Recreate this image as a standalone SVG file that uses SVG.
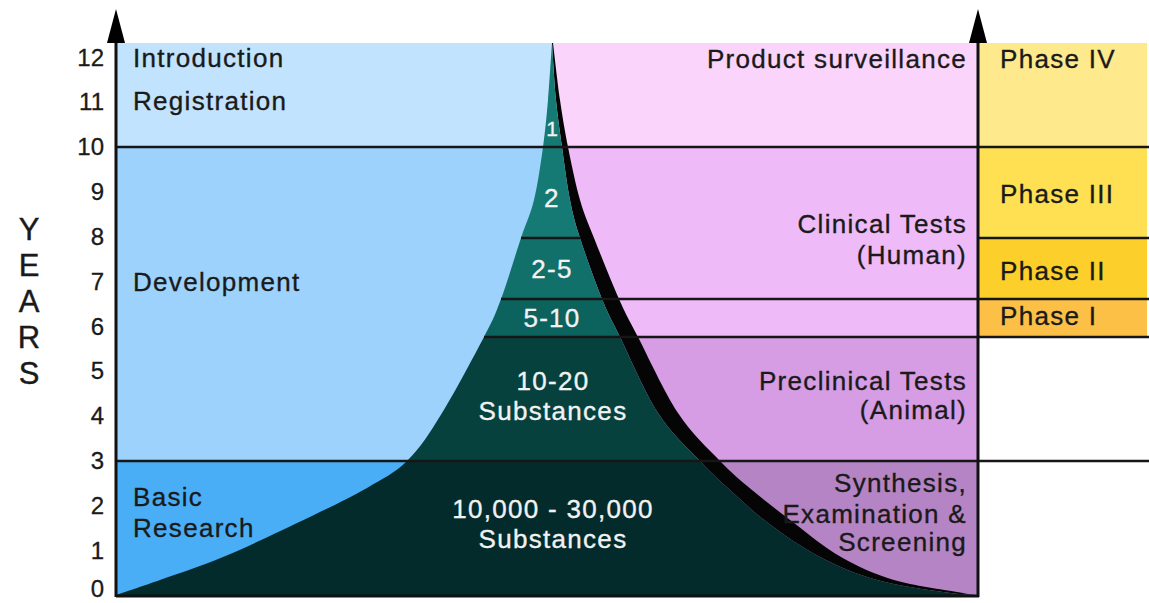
<svg xmlns="http://www.w3.org/2000/svg" xmlns:xlink="http://www.w3.org/1999/xlink" width="1149" height="603" viewBox="0 0 1149 603">
<style>
.t{font-family:"Liberation Sans",Arial,Helvetica,sans-serif;font-size:26px;letter-spacing:1.3px;fill:#1a1a1a;stroke:#1a1a1a;stroke-width:0.35px}
.w{fill:#f2f2f2;stroke:#f2f2f2}
.m{text-anchor:middle}
.e{text-anchor:end}
.n{font-family:"Liberation Sans",Arial,sans-serif;font-size:24px;fill:#1a1a1a;stroke:#1a1a1a;stroke-width:0.3px;text-anchor:end}
.y{font-family:"Liberation Sans",Arial,sans-serif;font-size:31px;fill:#1a1a1a;stroke:#1a1a1a;stroke-width:0.4px;text-anchor:middle}
.ln{stroke:#161616;stroke-width:2.5;fill:none}
.ax{stroke:#111;stroke-width:3;fill:none}
</style>
<defs>
<path id="funnel" d="M552,43 C551.3,52.5 549.5,82.7 548,100 C546.5,117.3 545.3,130.3 543,147 C540.7,163.7 537.7,184.8 534,200 C530.3,215.2 526.5,221.5 521,238 C515.5,254.5 507.2,282.5 501,299 C494.8,315.5 494,318 484,337 C474,356 455,392 442,413 C429,434 421,447 407,461 C394,474 383,478 367,488 C348,499 320,512 297,523 C274,534 246,547.5 223,557 C200.2,566.5 177.8,573.7 160,580 C142.2,586.3 123.3,592.5 116,595 L975,595 C969.7,594.5 959.3,594.5 943,592 C926.7,589.5 897.5,585.8 877,580 C856.5,574.2 838.2,566.5 820,557 C801.8,547.5 783,534.2 768,523 C753,511.8 741.3,500.3 730,490 C718.7,479.7 712,473.8 700,461 C688,448.2 671.3,433.7 658,413 C644.7,392.3 629.3,356 620,337 C610.7,318 608.7,315.5 602,299 C595.3,282.5 585.3,254.5 580,238 C574.7,221.5 573,215.2 570,200 C567,184.8 564.3,163.7 562,147 C559.7,130.3 557.7,117.3 556,100 C554.3,82.7 552.7,52.5 552,43 Z"/>
<clipPath id="c1"><rect x="100" y="40" width="900" height="198"/></clipPath>
<clipPath id="c2"><rect x="100" y="238" width="900" height="61"/></clipPath>
<clipPath id="c3"><rect x="100" y="299" width="900" height="38"/></clipPath>
<clipPath id="c4"><rect x="100" y="337" width="900" height="124"/></clipPath>
<clipPath id="c5"><rect x="100" y="461" width="900" height="140"/></clipPath>
</defs>

<g id="background-bands">
<rect x="116" y="43" width="437" height="104" fill="#C2E3FD"/>
<rect x="116" y="147" width="437" height="314" fill="#9DD2FC"/>
<rect x="116" y="461" width="437" height="134" fill="#4AAEF7"/>
<rect x="553" y="43" width="425" height="104" fill="#FBD4FB"/>
<rect x="553" y="147" width="425" height="190" fill="#EEBAF8"/>
<rect x="553" y="337" width="425" height="124" fill="#D69CE4"/>
<rect x="553" y="461" width="425" height="134" fill="#B584C4"/>
</g>

<g id="phases">
<rect x="978" y="43" width="169" height="104" fill="#FEE98D"/>
<rect x="978" y="147" width="169" height="91" fill="#FEE052"/>
<rect x="978" y="238" width="169" height="61" fill="#FDCF2A"/>
<rect x="978" y="299" width="169" height="38" fill="#FCC047"/>
</g>

<g id="funnel-shape">
<path id="black-edge" fill="#050505" d="M553,43 C554.2,52.5 557.5,82.7 560,100 C562.5,117.3 564.7,130.3 568,147 C571.3,163.7 575.7,184.8 580,200 C584.3,215.2 587.5,221.5 594,238 C600.5,254.5 611.7,282.5 619,299 C626.3,315.5 628.2,318 638,337 C647.8,356 664.3,392.3 678,413 C691.7,433.7 707.7,448.2 720,461 C732.3,473.8 739.7,479.7 752,490 C764.3,500.3 779.2,511.8 794,523 C808.8,534.2 824.3,547.5 841,557 C857.7,566.5 874.7,574.2 894,580 C913.3,585.8 943.5,589.5 957,592 C970.5,594.5 972,594.5 975,595 C969.7,594.5 959.3,594.5 943,592 C926.7,589.5 897.5,585.8 877,580 C856.5,574.2 838.2,566.5 820,557 C801.8,547.5 783,534.2 768,523 C753,511.8 741.3,500.3 730,490 C718.7,479.7 712,473.8 700,461 C688,448.2 671.3,433.7 658,413 C644.7,392.3 629.3,356 620,337 C610.7,318 608.7,315.5 602,299 C595.3,282.5 585.3,254.5 580,238 C574.7,221.5 573,215.2 570,200 C567,184.8 564.3,163.7 562,147 C559.7,130.3 557.7,117.3 556,100 C554.3,82.7 552.7,52.5 552,43 Z"/>
<use xlink:href="#funnel" clip-path="url(#c1)" fill="#167A74"/>
<use xlink:href="#funnel" clip-path="url(#c2)" fill="#117069"/>
<use xlink:href="#funnel" clip-path="url(#c3)" fill="#0C625D"/>
<use xlink:href="#funnel" clip-path="url(#c4)" fill="#06413E"/>
<use xlink:href="#funnel" clip-path="url(#c5)" fill="#032B2B"/>
</g>

<g id="connectors">
<line class="ln" x1="116" y1="147" x2="1149" y2="147"/>
<line class="ln" x1="521" y1="238" x2="581" y2="238"/>
<line class="ln" x1="978" y1="238" x2="1149" y2="238"/>
<line class="ln" x1="501" y1="299" x2="1149" y2="299"/>
<line class="ln" x1="484" y1="337" x2="1149" y2="337"/>
<line class="ln" x1="116" y1="461" x2="1149" y2="461"/>
<line class="ax" x1="116" y1="596" x2="979" y2="596"/>
<line class="ax" x1="116" y1="40" x2="116" y2="597"/>
<line class="ax" x1="978" y1="40" x2="978" y2="597"/>
<polygon points="116,9 107,43 125,43" fill="#000"/>
<polygon points="978,9 969,43 987,43" fill="#000"/>
</g>

<g id="axis-labels">
<text class="n" x="104" y="66">12</text>
<text class="n" x="104" y="110">11</text>
<text class="n" x="104" y="155">10</text>
<text class="n" x="104" y="200">9</text>
<text class="n" x="104" y="245">8</text>
<text class="n" x="104" y="290">7</text>
<text class="n" x="104" y="335">6</text>
<text class="n" x="104" y="379">5</text>
<text class="n" x="104" y="424">4</text>
<text class="n" x="104" y="469">3</text>
<text class="n" x="104" y="514">2</text>
<text class="n" x="104" y="559">1</text>
<text class="n" x="104" y="597">0</text>
<text class="y" x="29" y="240">Y</text>
<text class="y" x="29" y="276">E</text>
<text class="y" x="29" y="312">A</text>
<text class="y" x="29" y="348">R</text>
<text class="y" x="29" y="384">S</text>
</g>

<g id="left-labels">
<text class="t" x="133" y="67">Introduction</text>
<text class="t" x="133" y="110">Registration</text>
<text class="t" x="133" y="291">Development</text>
<text class="t" x="133" y="506">Basic</text>
<text class="t" x="133" y="537">Research</text>
</g>

<g id="funnel-labels">
<text class="t w m" x="552" y="136" style="font-size:21px;letter-spacing:0">1</text>
<text class="t w m" x="552" y="207">2</text>
<text class="t w m" x="552" y="278">2-5</text>
<text class="t w m" x="552" y="327">5-10</text>
<text class="t w m" x="553" y="390">10-20</text>
<text class="t w m" x="553" y="420">Substances</text>
<text class="t w m" x="553" y="518">10,000 - 30,000</text>
<text class="t w m" x="553" y="548">Substances</text>
</g>

<g id="right-labels">
<text class="t e" x="967" y="68">Product surveillance</text>
<text class="t e" x="967" y="233">Clinical Tests</text>
<text class="t e" x="967" y="264">(Human)</text>
<text class="t e" x="967" y="390">Preclinical Tests</text>
<text class="t e" x="967" y="419">(Animal)</text>
<text class="t e" x="967" y="492">Synthesis,</text>
<text class="t e" x="967" y="523">Examination &amp;</text>
<text class="t e" x="967" y="551">Screening</text>
</g>

<g id="phase-labels">
<text class="t" x="1000" y="68">Phase IV</text>
<text class="t" x="1000" y="203">Phase III</text>
<text class="t" x="1000" y="280">Phase II</text>
<text class="t" x="1000" y="325">Phase I</text>
</g>
</svg>
